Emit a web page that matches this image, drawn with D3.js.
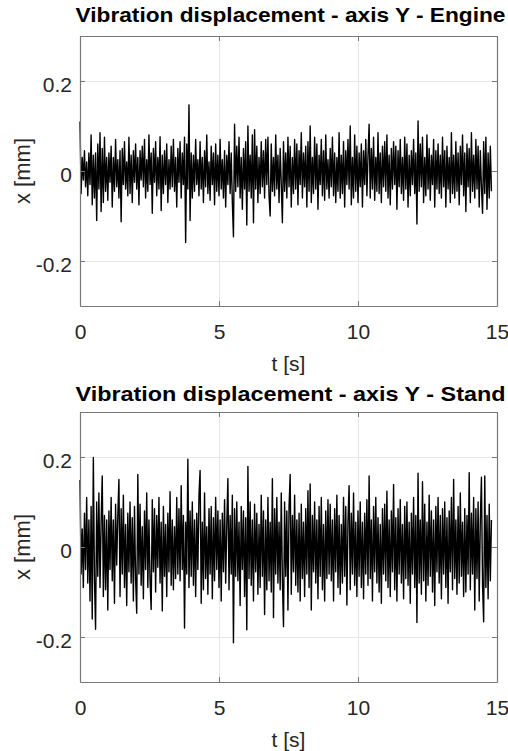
<!DOCTYPE html>
<html>
<head>
<meta charset="utf-8">
<script src="https://cdn.jsdelivr.net/npm/d3@7"></script>
<style>
  body { margin: 0; background: #fff; }
  svg text { font-family: "Liberation Sans", Arial, sans-serif; }
</style>
</head>
<body>
<div id="chart"></div>
<script>
// sample interval of the recorded signal [s]
var dt = 0.04;

// axis ranges and ticks
var tDomain = [0, 15];
var xDomain = [-0.3, 0.3];
var tTicks = [0, 5, 10, 15];
var xTicks = [-0.2, 0, 0.2];

var titles = ["Vibration displacement - axis Y - Engine",
              "Vibration displacement - axis Y - Stand"];

// displacement, in micrometres (one row = 1 s)
var engine = [
  110,-50,30,-20,45,-35,20,-55,40,-30,80,-75,35,-60,40,-110,60,-40,85,-90,50,-70,75,-45,30,
  -65,40,-25,55,-80,30,-45,70,-35,25,-60,45,-113,50,-30,65,-40,20,-55,75,-50,35,-70,45,-25,
  60,-40,30,-75,45,-20,55,-35,70,-60,25,-45,80,-30,40,-94,50,-25,65,-55,30,-40,76,-88,35,
  -50,45,-30,60,-70,25,-40,55,-35,70,-45,30,-80,50,-25,65,-60,40,-30,75,-159,60,-40,147,-110,
  40,-60,35,-45,70,-30,25,-55,65,-40,30,-70,45,-35,80,-50,20,-65,55,-30,40,-75,60,-45,35,
  -55,70,-40,25,-60,45,-80,35,-30,65,-50,40,-70,-146,104,-45,55,-35,75,-60,30,-85,50,-40,65,
  -120,100,-45,35,-60,80,-115,92,-40,55,-70,30,-50,65,-35,45,-60,70,-30,75,-55,-100,60,-45,30,
  -55,80,-40,35,-70,50,-30,-115,65,-45,40,-60,75,-35,55,-80,30,-50,70,-40,60,-75,45,-30,85,
  -60,40,-35,55,-80,65,-45,100,-70,30,-50,75,-40,60,-85,35,-30,70,-55,45,-65,80,-40,25,-60,
  50,-35,75,-55,40,-70,30,-45,85,-60,35,-50,65,-80,45,-30,70,-40,100,-75,30,-60,80,-45,55,
  -70,40,-35,60,-80,45,-30,70,-55,35,104,-60,50,-40,75,-65,30,-45,85,-50,40,-70,55,-35,65,
  -45,80,-60,35,-75,50,-40,65,-30,55,-85,45,-35,70,-50,30,-65,75,-40,60,-80,35,-55,45,-30,
  70,-50,40,-118,111,-45,60,-35,75,-70,30,-55,80,-40,50,-65,35,-30,70,-80,45,-40,60,-50,35,
  -60,75,-35,45,-80,55,-40,30,-70,85,-50,35,-60,65,-45,40,-75,55,-30,80,-55,40,-90,60,-35,
  50,-70,85,-45,35,-60,70,-40,55,-80,45,-35,-94,65,-50,75,-85,40,-60,55,-45
];

var stand = [
  149,-60,40,-90,75,-50,110,-80,60,-120,90,-160,199,-70,-183,100,-65,120,-90,55,158,-110,70,-95,60,
  -140,80,-50,110,-75,60,-125,95,-40,70,150,-110,85,-60,115,-90,50,-130,75,-55,100,-80,65,-120,90,
  -70,-147,161,-60,95,-85,45,-115,80,-50,120,-90,60,-75,-139,105,-55,85,-100,70,-45,110,-80,55,-142,
  90,-65,50,-110,75,-55,123,-85,60,-95,45,-70,110,-60,85,-75,136,-50,70,-180,55,-60,195,-90,80,
  -65,100,-85,60,-110,75,-50,115,170,-125,55,-95,120,-70,45,-105,85,-60,90,-115,65,-75,110,-50,80,
  -90,60,-120,75,-55,105,-80,50,152,-95,70,-60,115,-213,85,-65,100,-75,55,-130,90,-50,80,-110,65,
  -184,179,-70,100,-85,60,-120,95,-55,75,-105,50,-90,115,-65,80,-150,60,-95,110,-75,55,-100,152,-157,
  85,-60,110,-80,55,-95,120,-75,-177,100,-65,80,-140,90,161,-105,70,-55,115,-85,60,-100,75,-120,95,
  -70,55,-110,85,-60,125,-90,140,-140,70,-55,100,-80,60,-115,90,-65,110,-95,50,-120,80,-70,105,-60,
  95,-75,60,-120,85,-55,115,-90,70,-105,50,-80,110,-65,90,-129,60,136,-95,75,-60,120,-85,55,-110,
  80,-65,100,-90,55,-115,75,-60,105,-85,158,-70,60,-120,90,-55,110,-80,65,-100,50,-125,85,-60,95,
  -75,124,-90,60,-110,80,-55,139,-95,65,-120,85,-60,105,-80,50,-115,90,-70,100,-85,55,-125,75,-60,
  110,-90,70,-168,164,-80,60,-105,145,-75,95,-120,55,-85,115,-65,80,-100,60,-130,90,-55,110,-80,70,
  -115,85,-60,100,-90,65,-125,80,-55,110,-95,150,-70,60,-105,90,-80,120,-65,55,-110,85,-100,70,-60,
  165,-95,75,-60,110,-140,85,-70,100,-120,60,155,-85,-166,158,-90,70,-115,95,-75,60
];

var W = 508, H = 751;
var left = 80, right = 497;
var panels = [
  {title: titles[0], data: engine, top: 36, bottom: 306, titleY: 22},
  {title: titles[1], data: stand, top: 412, bottom: 682, titleY: 401}
];

var svg = d3.select("#chart").append("svg")
    .attr("width", W)
    .attr("height", H);

var axisColor = "#777", textColor = "#262626";

panels.forEach(function(p) {
  var x = d3.scaleLinear().domain(tDomain).range([left, right]);
  var y = d3.scaleLinear().domain(xDomain).range([p.bottom, p.top]);
  var h = p.bottom - p.top, w = right - left;
  var g = svg.append("g");

  // grid
  g.append("g")
    .attr("transform", "translate(0," + p.bottom + ")")
    .call(d3.axisBottom(x).tickValues(tTicks).tickSize(-h).tickFormat(""))
    .call(a => a.select(".domain").remove())
    .selectAll("line").attr("stroke", "#e6e6e6");
  g.append("g")
    .attr("transform", "translate(" + left + ",0)")
    .call(d3.axisLeft(y).tickValues(xTicks).tickSize(-w).tickFormat(""))
    .call(a => a.select(".domain").remove())
    .selectAll("line").attr("stroke", "#e6e6e6");

  // signal
  var line = d3.line()
    .x((d, i) => x(i * dt))
    .y(d => y(d / 1000));
  g.append("path")
    .datum(p.data)
    .attr("fill", "none")
    .attr("stroke", "#000")
    .attr("stroke-width", 1.4)
    .attr("stroke-linejoin", "round")
    .attr("d", line);

  // box with inward ticks
  var bottomAxis = g.append("g")
    .attr("transform", "translate(0," + p.bottom + ")")
    .call(d3.axisBottom(x).tickValues(tTicks).tickSizeInner(-5).tickSizeOuter(0).tickPadding(18));
  var topAxis = g.append("g")
    .attr("transform", "translate(0," + p.top + ")")
    .call(d3.axisTop(x).tickValues(tTicks).tickSizeInner(-5).tickSizeOuter(0).tickFormat(""));
  var leftAxis = g.append("g")
    .attr("transform", "translate(" + left + ",0)")
    .call(d3.axisLeft(y).tickValues(xTicks).tickSizeInner(-5).tickSizeOuter(0).tickPadding(8)
      .tickFormat(d => d === 0 ? "0" : d.toFixed(1)));
  var rightAxis = g.append("g")
    .attr("transform", "translate(" + right + ",0)")
    .call(d3.axisRight(y).tickValues(xTicks).tickSizeInner(-5).tickSizeOuter(0).tickFormat(""));

  [bottomAxis, topAxis, leftAxis, rightAxis].forEach(function(a) {
    a.select(".domain").attr("stroke", axisColor).attr("stroke-width", 1.2);
    a.selectAll(".tick line").attr("stroke", axisColor);
    a.selectAll("text").attr("fill", textColor).style("font-size", "21px");
  });
  leftAxis.selectAll("text").attr("dy", "0.5em");

  // labels
  g.append("text")
    .attr("x", (left + right) / 2)
    .attr("y", p.bottom + 65)
    .attr("text-anchor", "middle")
    .attr("fill", textColor)
    .style("font-size", "21px")
    .text("t [s]");
  g.append("text")
    .attr("transform", "translate(30," + (p.top + h / 2) + ") rotate(-90)")
    .attr("text-anchor", "middle")
    .attr("fill", textColor)
    .style("font-size", "22px")
    .text("x [mm]");
  g.append("text")
    .attr("x", (left + right) / 2 + 2)
    .attr("y", p.titleY)
    .attr("text-anchor", "middle")
    .attr("fill", "#000")
    .style("font-size", "21px")
    .style("font-weight", "bold")
    .attr("textLength", 430)
    .attr("lengthAdjust", "spacingAndGlyphs")
    .text(p.title);
});
</script>
</body>
</html>
